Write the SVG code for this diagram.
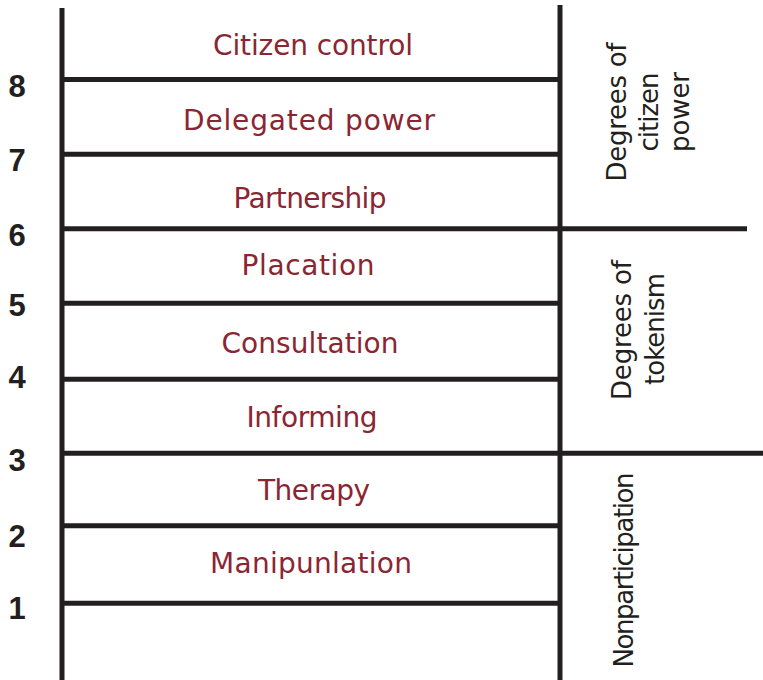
<svg xmlns="http://www.w3.org/2000/svg" width="763" height="680" viewBox="0 0 763 680">
<style>
.ln{stroke:#231f20;stroke-width:5;fill:none;stroke-linecap:butt}
.lbl{font-family:"DejaVu Sans","Liberation Sans",sans-serif;font-size:28px;fill:#8a2633;text-anchor:middle}
.num{font-family:"Liberation Sans",Arial,sans-serif;font-size:31px;font-weight:bold;fill:#231f20;text-anchor:middle}
.side{font-family:"DejaVu Sans","Liberation Sans",sans-serif;font-size:26px;fill:#231f20;text-anchor:middle}
</style>
<rect width="763" height="680" fill="#ffffff"/>
<g id="connectors">
<line class="ln" x1="62" y1="8" x2="62" y2="680"/>
<line class="ln" x1="560" y1="5" x2="560" y2="680"/>
<line class="ln" x1="62" y1="79.5" x2="560" y2="79.5"/>
<line class="ln" x1="62" y1="154.3" x2="560" y2="154.3"/>
<line class="ln" x1="62" y1="228.7" x2="747" y2="228.7"/>
<line class="ln" x1="62" y1="303.3" x2="560" y2="303.3"/>
<line class="ln" x1="62" y1="379.3" x2="560" y2="379.3"/>
<line class="ln" x1="62" y1="453.3" x2="763" y2="453.3"/>
<line class="ln" x1="62" y1="525.7" x2="560" y2="525.7"/>
<line class="ln" x1="62" y1="603.3" x2="560" y2="603.3"/>
</g>
<g id="rung-citizen-control"><text class="lbl" x="313" y="55" textLength="200">Citizen control</text></g>
<g id="rung-delegated-power"><text class="lbl" x="309" y="130" textLength="252">Delegated power</text></g>
<g id="rung-partnership"><text class="lbl" x="310" y="208" textLength="153">Partnership</text></g>
<g id="rung-placation"><text class="lbl" x="308" y="275" textLength="133">Placation</text></g>
<g id="rung-consultation"><text class="lbl" x="310" y="353" textLength="177">Consultation</text></g>
<g id="rung-informing"><text class="lbl" x="312" y="427" textLength="131">Informing</text></g>
<g id="rung-therapy"><text class="lbl" x="314" y="500" textLength="112">Therapy</text></g>
<g id="rung-manipunlation"><text class="lbl" x="311" y="573" textLength="202">Manipunlation</text></g>
<g id="numbers">
<text class="num" x="17" y="97">8</text>
<text class="num" x="17" y="171">7</text>
<text class="num" x="17" y="246">6</text>
<text class="num" x="17" y="316">5</text>
<text class="num" x="17" y="388">4</text>
<text class="num" x="17" y="471">3</text>
<text class="num" x="17" y="547">2</text>
<text class="num" x="17" y="619">1</text>
</g>
<g id="group-citizen-power">
<text class="side" transform="translate(626,112) rotate(-90)" textLength="139">Degrees of</text>
<text class="side" transform="translate(658,112) rotate(-90)" textLength="79">citizen</text>
<text class="side" transform="translate(689,112) rotate(-90)" textLength="80">power</text>
</g>
<g id="group-tokenism">
<text class="side" transform="translate(631,330) rotate(-90)" textLength="140">Degrees of</text>
<text class="side" transform="translate(664,329) rotate(-90)" textLength="112">tokenism</text>
</g>
<g id="group-nonparticipation">
<text class="side" transform="translate(633,570) rotate(-90)" textLength="195">Nonparticipation</text>
</g>
</svg>
